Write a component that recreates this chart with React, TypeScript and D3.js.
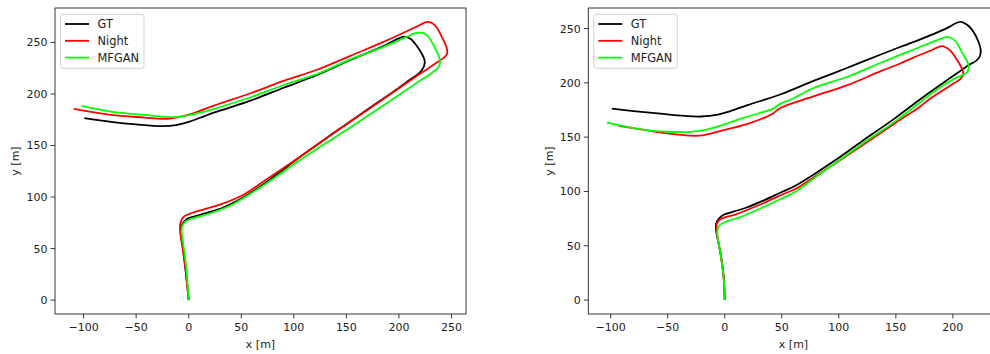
import React from 'react';
import * as d3 from 'd3';

type Pt = [number, number];

// Left panel trajectories (x [m], y [m]), in driving order from the origin
const gtLeft: Pt[] = [
  [0, 0], [-1.5, 15], [-2.8, 27], [-4.5, 42], [-6, 54], [-7.4, 64], [-7.2, 70.5], [-5, 75.5],
  [-1.2, 78.9], [5, 81], [14.5, 83.8], [33.5, 90.1], [55.7, 102], [80, 119], [106, 139],
  [140, 163.5], [170, 185], [195, 202.5], [210, 213.5], [219, 220], [223.5, 226], [224.5, 232],
  [222, 238.5], [216, 248], [211, 253.5], [206, 255.5], [200, 254], [185.3, 246.4], [153.7, 232.9],
  [122.1, 218.4], [90.4, 206], [58.8, 193.5], [30.4, 184], [15, 178.5], [0, 173],
  [-12, 169.8], [-25, 168.8], [-50, 170.5], [-74, 173], [-99.3, 176.5],
];
const nightLeft: Pt[] = [
  [0, 0], [-1.5, 15], [-2.6, 27], [-4.5, 42], [-6.5, 55], [-8, 65], [-8.3, 72.5], [-6.5, 78.5],
  [-3, 82], [3, 84.5], [8.3, 86.3], [30.4, 92.8], [52.5, 102.4], [71.4, 115.3], [106.3, 139.4],
  [140, 163.5], [170, 184.5], [198, 204], [220, 219.5], [236, 230.5], [242.5, 235], [245.5, 238.5],
  [246, 241.5], [245, 246], [240.5, 256], [236, 264.5], [232, 268.3], [228, 269.9], [224, 269],
  [217, 265.5], [185.3, 250.5], [153.7, 237], [122.1, 223.5], [90.4, 212.6], [58.8, 200.7],
  [30.4, 191], [20.9, 187.5], [5, 181.5], [-7.6, 178.1], [-23.4, 175.8], [-42.4, 177.1],
  [-74, 179.7], [-109.4, 185.5],
];
const mfganLeft: Pt[] = [
  [0, 0], [-1, 15], [-2.2, 30], [-3.5, 42], [-5.3, 55], [-6.6, 65], [-6.4, 71], [-4, 75.5],
  [0, 78], [8, 80.5], [20, 84], [40, 92], [60, 104], [80, 117.5], [106.3, 136.2], [140, 158.5],
  [170, 178.5], [200, 199], [218, 211.5], [232.8, 221.5], [237.5, 226], [239, 229.5], [238.5, 235],
  [235.5, 242], [232.8, 247.5], [228, 255.5], [224, 258.8], [220.1, 259.6], [214, 258.5],
  [210.6, 257], [185.3, 245.7], [153.7, 233.5], [122.1, 219.3], [90.4, 208.7], [58.8, 196.8],
  [40, 190.5], [20.9, 184.5], [5, 180.4], [-13.9, 177.5], [-42.4, 179.7], [-74, 182.9],
  [-101.8, 188.4],
];

// Right panel trajectories
const gtRight: Pt[] = [
  [0, 0], [-1, 22.3], [-3.3, 40.7], [-6.2, 56.1], [-7.7, 65.3], [-7.5, 70.5], [-5, 75], [-1, 78.5],
  [6.9, 81.2], [18.6, 85], [33.2, 91.3], [50, 99.5], [62.3, 105.5], [80, 117], [100, 131],
  [120, 146], [150, 168], [172, 185.4], [200, 206.2], [214, 216.5], [220, 220], [223.7, 224.5],
  [224.3, 231], [222, 239], [218, 247], [214.1, 252.1], [210, 255], [206.8, 256.1], [202, 254.6],
  [195.2, 250.6], [165.9, 237.7], [154.3, 233.2], [136.8, 226.1], [107.6, 213.9], [78.4, 202],
  [49.2, 189.5], [20, 179.5], [5, 174], [-6, 170.8], [-20.8, 169], [-35, 169.5],
  [-58.8, 171.8], [-80, 174], [-99, 176.2],
];
const nightRight: Pt[] = [
  [0, 0], [-1, 22], [-3.3, 40], [-5.8, 55], [-7.2, 64], [-7, 70], [-4.5, 74], [-1.8, 75.5],
  [9.8, 79], [33.2, 88.9], [50, 97], [62.3, 102.5], [80, 114.5], [100, 128], [120.8, 142.5],
  [149.9, 163.3], [171.8, 178.5], [179.1, 184.7], [202.4, 200.6], [206.5, 203.5], [209, 207.5],
  [208.3, 212.3], [204, 220.5], [198.1, 229.2], [194, 232.5], [190.8, 233.8], [186, 232.5],
  [180, 229.5], [165.9, 223.5], [154.3, 218], [136.8, 210.8], [107.6, 197.9], [78.4, 187.8],
  [49.2, 177.1], [41.9, 171.5], [36.1, 168.5], [18.6, 161.8], [-1.8, 156.3], [-19.4, 151.7],
  [-31.1, 151.4], [-48.6, 153.2], [-69, 156.5], [-93, 160.5],
];
const mfganRight: Pt[] = [
  [0, 0], [-0.5, 15], [-1.8, 28.5], [-4, 45], [-6.2, 57], [-6.5, 63.7], [-5, 68.5], [-0.4, 71.4],
  [5, 73.5], [12.7, 76], [33.2, 85.2], [50, 93.5], [62.3, 100], [80, 113.5], [100, 128.5],
  [120, 143.5], [150, 165], [171.8, 182.5], [179.1, 188.5], [200, 203], [208, 207], [212.5, 210],
  [214, 213.5], [213, 218.5], [208, 228], [202.4, 238.3], [198, 241.5], [195, 242], [190, 240.8],
  [165.9, 230.7], [154.3, 226], [136.8, 218.5], [107.6, 205.6], [78.4, 195.5], [58, 184.7],
  [49.2, 181], [41.9, 176], [30, 172], [14.2, 167], [-1, 161.5], [-15, 157.2], [-32.5, 154.7],
  [-50, 155], [-73.4, 157.2], [-103.2, 163.3],
];

const seriesNames = ['GT', 'Night', 'MFGAN'];
const seriesColors = ['#000000', '#ff0000', '#00ff00'];

const xTicksLeft = [-100, -50, 0, 50, 100, 150, 200, 250];
const xTicksRight = [-100, -50, 0, 50, 100, 150, 200];
const yTicks = [0, 50, 100, 150, 200, 250];

const FONT = 'DejaVu Sans, sans-serif';

const fmt = (v: number) => (v < 0 ? `\u2212${Math.abs(v)}` : `${v}`);

interface PanelProps {
  left: number;
  top: number;
  width: number;
  height: number;
  xDomain: [number, number];
  yDomain: [number, number];
  xTicks: number[];
  series: Pt[][];
  ylabelX: number;
}

const Panel: React.FC<PanelProps> = ({ left, top, width, height, xDomain, yDomain, xTicks, series, ylabelX }) => {
  const x = d3.scaleLinear().domain(xDomain).range([left, left + width]);
  const y = d3.scaleLinear().domain(yDomain).range([top + height, top]);
  const line = d3.line<Pt>()
    .x(d => x(d[0]))
    .y(d => y(d[1]))
    .curve(d3.curveCatmullRom.alpha(0.5));
  const bottom = top + height;

  return (
    <g>
      {/* trajectories */}
      {series.map((s, i) => (
        <path key={seriesNames[i]} d={line(s) || ''} fill="none" stroke={seriesColors[i]} strokeWidth={1.8} strokeLinejoin="round" />
      ))}

      {/* frame */}
      <rect x={left} y={top} width={width} height={height} fill="none" stroke="#222" strokeWidth={0.9} />

      {/* x axis */}
      {xTicks.map(t => (
        <g key={`x${t}`}>
          <line x1={x(t)} x2={x(t)} y1={bottom} y2={bottom + 4.5} stroke="#222" strokeWidth={0.9} />
          <text x={x(t)} y={bottom + 17} textAnchor="middle" fontSize={11} fontFamily={FONT} fill="#222">{fmt(t)}</text>
        </g>
      ))}

      {/* y axis */}
      {yTicks.map(t => (
        <g key={`y${t}`}>
          <line x1={left - 4.5} x2={left} y1={y(t)} y2={y(t)} stroke="#222" strokeWidth={0.9} />
          <text x={left - 7.5} y={y(t) + 4} textAnchor="end" fontSize={11} fontFamily={FONT} fill="#222">{fmt(t)}</text>
        </g>
      ))}
      <text transform={`translate(${ylabelX}, ${top + height / 2}) rotate(-90)`} textAnchor="middle" fontSize={11} fontFamily={FONT} fill="#222">y [m]</text>

      {/* legend */}
      <g transform={`translate(${left + 5.5}, ${top + 6.3})`}>
        <rect x={0} y={0} width={83.5} height={54} rx={2.5} fill="#fff" fillOpacity={0.8} stroke="#ccc" strokeWidth={0.9} />
        {seriesNames.map((n, i) => (
          <g key={n} transform={`translate(0, ${9.7 + i * 16.8})`}>
            <line x1={4.5} x2={28.5} y1={0} y2={0} stroke={seriesColors[i]} strokeWidth={1.8} />
            <text x={37} y={4} fontSize={11.4} fontFamily={FONT} fill="#222">{n}</text>
          </g>
        ))}
      </g>
    </g>
  );
};

const App: React.FC = () => {
  const top = 8;
  const height = 306;
  const width = 411;
  const leftA = 55;
  const leftB = 588.3;
  return (
    <svg width={990} height={354} style={{ position: 'absolute', left: 0, top: 0, background: '#fff' }}>
      <Panel left={leftA} top={top} width={width} height={height} xDomain={[-127.2, 263.8]} yDomain={[-13.5, 283.4]}
        xTicks={xTicksLeft} series={[gtLeft, nightLeft, mfganLeft]} ylabelX={19} />
      <Panel left={leftB} top={top} width={width} height={height} xDomain={[-119.6, 240.7]} yDomain={[-12.8, 268.9]}
        xTicks={xTicksRight} series={[gtRight, nightRight, mfganRight]} ylabelX={552.5} />
      <text x={260.5} y={347.5} textAnchor="middle" fontSize={11} fontFamily={FONT} fill="#222">x [m]</text>
      <text x={793.5} y={347.5} textAnchor="middle" fontSize={11} fontFamily={FONT} fill="#222">x [m]</text>
    </svg>
  );
};

export default App;
